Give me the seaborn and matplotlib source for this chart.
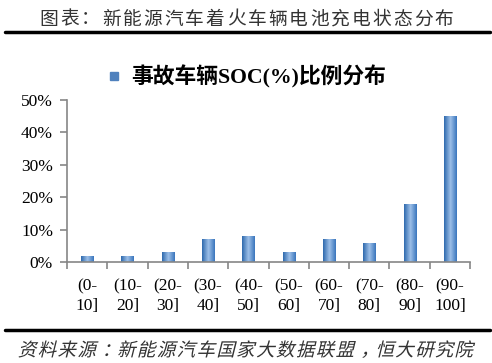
import numpy as np
import pandas as pd
import matplotlib
matplotlib.use("Agg")
import matplotlib.pyplot as plt
import seaborn as sns
from matplotlib.colors import LinearSegmentedColormap
from matplotlib.lines import Line2D
from matplotlib.textpath import TextPath
from matplotlib.patches import PathPatch
from matplotlib.font_manager import FontProperties
from matplotlib.transforms import Affine2D, IdentityTransform

categories = ["(0-\n10]", "(10-\n20]", "(20-\n30]", "(30-\n40]", "(40-\n50]",
              "(50-\n60]", "(60-\n70]", "(70-\n80]", "(80-\n90]", "(90-\n100]"]
values = [2, 2, 3, 7, 8, 3, 7, 6, 18, 45]
yticks = [0, 10, 20, 30, 40, 50]
ytick_labels = ["0%", "10%", "20%", "30%", "40%", "50%"]
title = "图表：新能源汽车着火车辆电池充电状态分布"
legend_label = "事故车辆SOC(%)比例分布"
source = "资料来源：新能源汽车国家大数据联盟，恒大研究院"

sns.set_theme(style="white")
plt.rcParams['font.family'] = ['Liberation Serif', 'Noto Sans CJK SC', 'DejaVu Sans']

W, H = 492, 363
df = pd.DataFrame({"cat": categories, "val": values})

fig = plt.figure(figsize=(W / 100, H / 100), dpi=100)
ax = fig.add_axes([67 / W, 1 - 262 / H, 403 / W, 162 / H])
sns.barplot(data=df, x="cat", y="val", color="#4f81bd", width=0.3, ax=ax, saturation=1)

# gradient fill
cmap = LinearSegmentedColormap.from_list("g", ["#2f6aae", "#9dbfe8", "#3a76bd"])
grad = np.linspace(0, 1, 64).reshape(1, -1)
for p in ax.patches:
    x0, y0 = p.get_x(), p.get_y()
    w, h = p.get_width(), p.get_height()
    im = ax.imshow(grad, extent=[x0, x0 + w, y0, y0 + h], cmap=cmap, aspect="auto",
                   zorder=p.get_zorder() + 0.1)
    im.set_clip_path(p)

ax.set_xlim(-0.5, 9.5)
ax.set_ylim(0, 50)
ax.set_yticks(yticks)
ax.set_yticklabels(ytick_labels)
ax.set_xlabel("")
ax.set_ylabel("")
for s in ["top", "right"]:
    ax.spines[s].set_visible(False)
for s in ["left", "bottom"]:
    ax.spines[s].set_color("#868686")
    ax.spines[s].set_linewidth(1.2)
ax.set_xticks(np.arange(-0.5, 10, 1), minor=True)
ax.tick_params(axis="x", which="major", length=0, pad=12, labelsize=12.5, colors="#000000")
ax.tick_params(axis="x", which="minor", length=5, width=1.2, color="#868686",
               direction="out", bottom=True)
ax.tick_params(axis="y", which="major", length=5, width=1.2, color="#868686",
               direction="out", left=True, labelsize=12.5, pad=5, labelcolor="#000000")
for lab in ax.get_xticklabels():
    lab.set_linespacing(1.25)

# title: individually spaced characters
cjk = ['Noto Sans CJK SC']
n = len(title)
x_start, x_end = 49, 444
for i, ch in enumerate(title):
    cx = x_start + i * (x_end - x_start) / (n - 1)
    fig.text(cx / W, 1 - 19 / H, ch, ha="center", va="center", fontsize=13.5,
             family=cjk, color="#333333", fontweight="light")
fig.add_artist(Line2D([5 / W, 490 / W], [1 - 32 / H] * 2, color="black", lw=2.5))
fig.add_artist(Line2D([5 / W, 490 / W], [1 - 330 / H] * 2, color="black", lw=2.5))

# source: italic via skewed text paths
fp = FontProperties(family='Noto Sans CJK SC', weight='light')
n2 = len(source)
sx0, sx1 = 29, 466
for i, ch in enumerate(source):
    cx = sx0 + i * (sx1 - sx0) / (n2 - 1)
    tp = TextPath((0, 0), ch, size=18.5, prop=fp)
    bb = tp.get_extents()
    tr = (Affine2D().translate(-(bb.x0 + bb.x1) / 2, -8).skew_deg(14, 0)
          .translate(cx, H - 348))
    fig.add_artist(PathPatch(tp, transform=tr + IdentityTransform(),
                             facecolor="#333333", edgecolor="none"))

# legend
fig.patches.append(plt.Rectangle((110 / W, 1 - 80 / H), 8 / W, 8 / H,
                                 transform=fig.transFigure, color="#4f81bd", figure=fig))
fig.text(131 / W, 1 - 77 / H, legend_label, ha="left", va="center", fontsize=15.7,
         family=['Liberation Serif', 'Noto Sans CJK SC'], fontweight="bold", color="black")

fig.savefig("out.png", dpi=100)
